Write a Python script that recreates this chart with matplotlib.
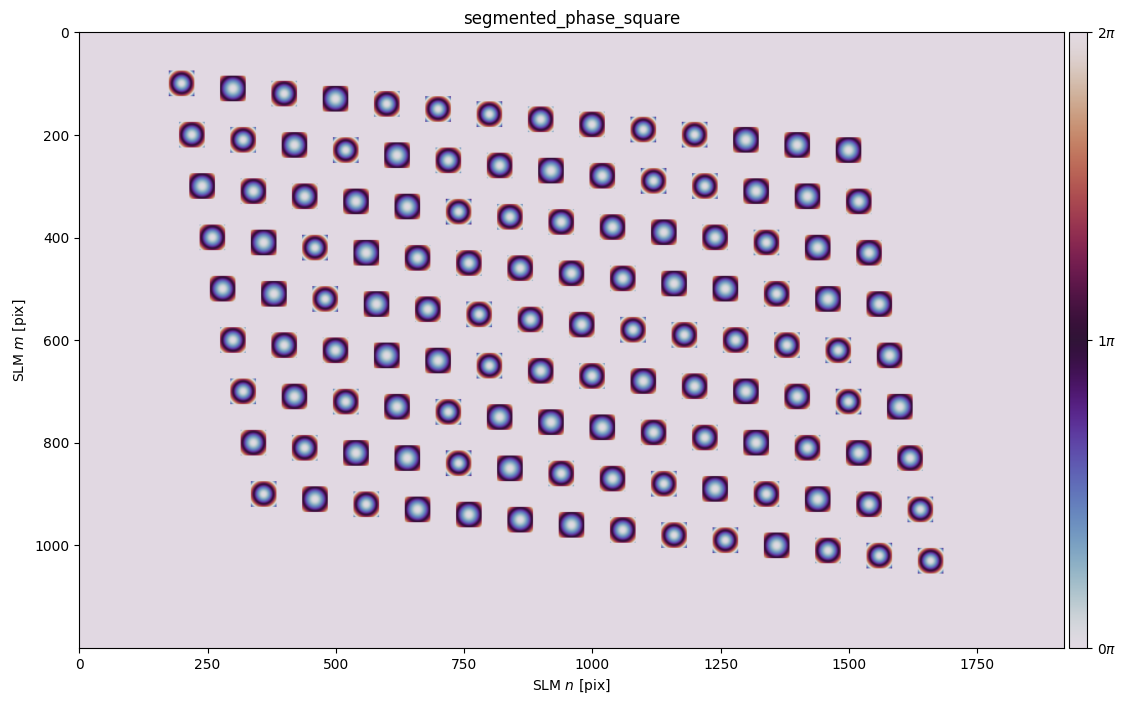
import matplotlib
matplotlib.use('Agg')
import matplotlib.pyplot as plt
import numpy as np

# SLM size (pixels)
slm_shape = (1200, 1920)

# spot centres: row start + column offset
row_x0 = [200, 220, 240, 260, 280, 300, 320, 340, 360]
row_y0 = [100, 200, 300, 400, 500, 600, 700, 800, 900]
col_dx = [0, 100, 200, 300, 400, 500, 600, 700, 800, 900, 1000, 1100, 1200, 1300]
col_dy = [0, 10, 20, 30, 40, 50, 60, 70, 80, 90, 100, 110, 120, 130]

# phase at the segment edge (fraction of 2pi), read per spot
edge_phase = [
    [0.88, 0.59, 0.75, 0.59, 0.79, 0.88, 0.88, 0.75, 0.72, 0.88, 0.88, 0.61, 0.61, 0.61],
    [0.77, 0.84, 0.63, 0.88, 0.59, 0.77, 0.72, 0.59, 0.70, 0.90, 0.86, 0.63, 0.61, 0.70],
    [0.63, 0.72, 0.70, 0.63, 0.61, 0.90, 0.79, 0.72, 0.70, 0.63, 0.72, 0.79, 0.63, 0.70],
    [0.72, 0.59, 0.88, 0.57, 0.70, 0.75, 0.72, 0.70, 0.72, 0.61, 0.61, 0.77, 0.59, 0.66],
    [0.66, 0.59, 0.88, 0.59, 0.70, 0.86, 0.75, 0.70, 0.86, 0.81, 0.77, 0.81, 0.86, 0.66],
    [0.75, 0.70, 0.70, 0.57, 0.61, 0.86, 0.70, 0.77, 0.66, 0.72, 0.63, 0.70, 0.90, 0.59],
    [0.84, 0.66, 0.79, 0.63, 0.86, 0.63, 0.61, 0.61, 0.72, 0.75, 0.61, 0.75, 0.66, 0.72],
    [0.72, 0.77, 0.59, 0.57, 0.90, 0.59, 0.75, 0.70, 0.86, 0.61, 0.79, 0.61, 0.72, 0.86],
    [0.86, 0.63, 0.79, 0.61, 0.63, 0.63, 0.61, 0.72, 0.86, 0.88, 0.61, 0.75, 0.88, 0.88],
]
half = 25  # half width of each square segment

phase = np.zeros(slm_shape)
yy, xx = np.mgrid[-half:half, -half:half] + 0.5
rr = np.sqrt(xx**2 + yy**2) / half
for r in range(len(row_x0)):
    for c in range(len(col_dx)):
        cx = row_x0[r] + col_dx[c]
        cy = row_y0[r] + col_dy[c]
        seg = (2 * np.pi * 0.92 * edge_phase[r][c] * rr**1.7) % (2 * np.pi)
        phase[cy - half:cy + half, cx - half:cx + half] = seg

fig = plt.figure(figsize=(11.27, 7.05), dpi=100)
ax = fig.add_axes([79/1127, 57/705, 985/1127, 616/705])
im = ax.imshow(phase, cmap='twilight', vmin=0, vmax=2*np.pi)
ax.set_title('segmented_phase_square')
ax.set_xlabel('SLM $n$ [pix]')
ax.set_ylabel('SLM $m$ [pix]')

cax = fig.add_axes([1069/1127, 57/705, 18/1127, 616/705])
cb = fig.colorbar(im, cax=cax, ticks=[0, np.pi, 2*np.pi])
cb.ax.set_yticklabels(['0$\\pi$', '1$\\pi$', '2$\\pi$'])

plt.savefig('out.png')
